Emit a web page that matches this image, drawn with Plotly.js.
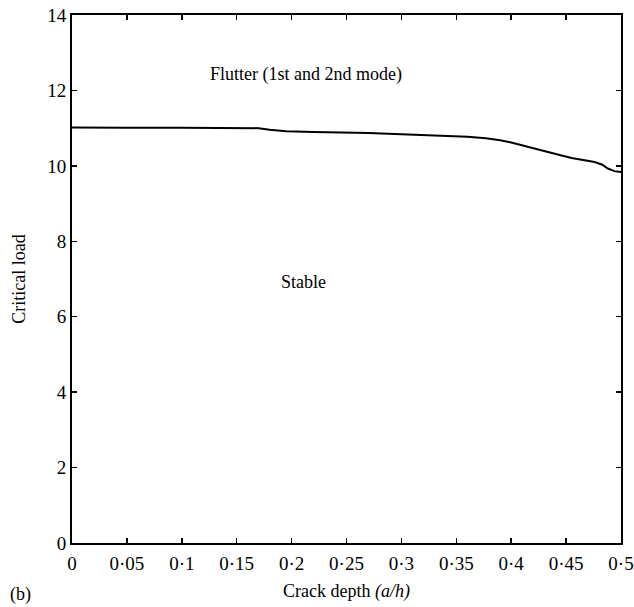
<!DOCTYPE html>
<html>
<head>
<meta charset="utf-8">
<script src="https://cdn.plot.ly/plotly-3.0.1.min.js"></script>
<style>html,body{margin:0;padding:0;background:#fff;}#chart{width:634px;height:607px;}</style>
</head>
<body>
<div id="chart"></div>
<script>
var crackDepth = [0, 0.02, 0.05, 0.1, 0.15, 0.17, 0.18, 0.195, 0.22, 0.243, 0.27, 0.30, 0.334, 0.36, 0.377, 0.39, 0.40, 0.415, 0.431, 0.445, 0.455, 0.466, 0.476, 0.483, 0.488, 0.494, 0.5];
var criticalLoad = [11.02, 11.01, 11.01, 11.01, 11.01, 11.0, 10.96, 10.92, 10.9, 10.89, 10.87, 10.84, 10.8, 10.77, 10.73, 10.68, 10.62, 10.5, 10.38, 10.28, 10.21, 10.16, 10.1, 10.03, 9.93, 9.86, 9.84];
var xTickVals = [0, 0.05, 0.1, 0.15, 0.2, 0.25, 0.3, 0.35, 0.4, 0.45, 0.5];
var xTickText = ['0', '0·05', '0·1', '0·15', '0·2', '0·25', '0·3', '0·35', '0·4', '0·45', '0·5'];
var yTickVals = [0, 2, 4, 6, 8, 10, 12, 14];

var font = {family: 'Liberation Serif, Times New Roman, serif', size: 18, color: '#000'};
var tickFont = {family: 'Liberation Serif, Times New Roman, serif', size: 19, color: '#000'};

var trace = {
  x: crackDepth, y: criticalLoad, mode: 'lines', type: 'scatter',
  line: {color: '#000', width: 2}, hoverinfo: 'skip'
};

var layout = {
  width: 634, height: 607,
  margin: {l: 72, r: 13, t: 15, b: 64},
  paper_bgcolor: '#fff', plot_bgcolor: '#fff',
  font: font,
  showlegend: false,
  xaxis: {
    range: [0, 0.5], tickvals: xTickVals, ticktext: xTickText,
    ticks: 'inside', ticklen: 5, tickwidth: 1.5, tickcolor: '#000',
    showline: true, linecolor: '#000', linewidth: 2, mirror: 'allticks',
    showgrid: false, zeroline: false, tickfont: tickFont,
    ticklabeloverflow: 'allow', ticklabelstandoff: 2,
    title: {text: 'Crack depth <i>(a/h)</i>', font: font, standoff: 12}
  },
  yaxis: {
    range: [0, 14], tickvals: yTickVals,
    ticks: 'inside', ticklen: 5, tickwidth: 1.5, tickcolor: '#000',
    showline: true, linecolor: '#000', linewidth: 2, mirror: 'allticks',
    showgrid: false, zeroline: false, tickfont: tickFont,
    ticklabeloverflow: 'allow',
    title: {text: 'Critical load', font: font, standoff: 17}
  },
  annotations: [
    {x: 0.213, y: 12.42, xref: 'x', yref: 'y', text: 'Flutter (1st and 2nd mode)', showarrow: false, font: font},
    {x: 0.211, y: 6.92, xref: 'x', yref: 'y', text: 'Stable', showarrow: false, font: font},
    {x: (20 - 72) / 549, y: -(594 - 543) / 528, xref: 'paper', yref: 'paper', xanchor: 'center', yanchor: 'middle', text: '(b)', showarrow: false, font: font}
  ]
};

Plotly.newPlot('chart', [trace], layout, {staticPlot: true, displayModeBar: false});
</script>
</body>
</html>
